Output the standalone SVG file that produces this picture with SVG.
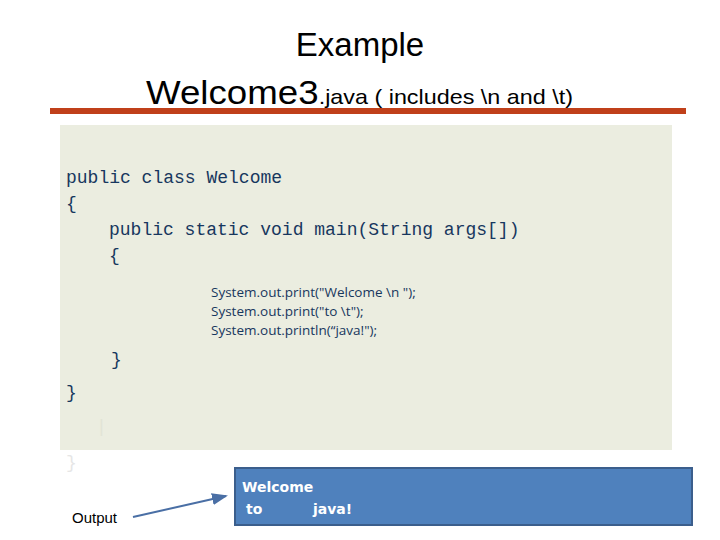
<svg xmlns="http://www.w3.org/2000/svg" width="720" height="540" viewBox="0 0 720 540">
<style>
.t{font-family:"Liberation Sans",Arial,sans-serif;fill:#000}
.c{font-family:"Liberation Mono","Courier New",monospace;font-size:18px;fill:#17375e}
.s{font-family:"Open Sans","Liberation Sans",sans-serif;font-size:13.5px;fill:#17375e}
.o{font-family:"DejaVu Sans",sans-serif;font-size:14px;font-weight:bold;fill:#fff}
</style>
<defs><marker id="a" markerWidth="8" markerHeight="6" refX="7" refY="3" orient="auto"><path d="M0,0L8,3L0,6z" fill="#4a6fa5"/></marker></defs>
<g id="title">
<text class="t" x="360" y="56" font-size="33" text-anchor="middle">Example</text>
<text class="t" x="146" y="104" font-size="33" textLength="427" lengthAdjust="spacingAndGlyphs">Welcome3<tspan font-size="21">.java ( includes \n and \t)</tspan></text>
<rect x="50" y="108" width="636" height="6" fill="#c0401a"/>
</g>
<g id="code">
<rect x="60" y="125" width="612" height="325" fill="#ebede0"/>
<text class="c" x="66" y="183">public class Welcome</text>
<text class="c" x="66" y="209">{</text>
<text class="c" x="109" y="235">public static void main(String args[])</text>
<text class="c" x="109" y="261">{</text>
<text class="s" x="211" y="297">System.out.print("Welcome \n ");</text>
<text class="s" x="211" y="316">System.out.print("to \t");</text>
<text class="s" x="211" y="335">System.out.println(“java!");</text>
<text class="c" x="111" y="365">}</text>
<text class="c" x="66" y="398">}</text>
<text class="c" x="96" y="432" style="fill:#e2e4d6">|</text>
<text class="c" x="66" y="468" style="fill:#e6e6e6">}</text>
</g>
<g id="output">
<rect x="235" y="468" width="457" height="57" fill="#4f81bd" stroke="#3b5e8c" stroke-width="2"/>
<text class="o" x="242" y="492">Welcome</text>
<text class="o" x="246" y="514">to<tspan x="313">java!</tspan></text>
</g>
<text class="t" x="72" y="523" font-size="15">Output</text>
<g id="connectors"><line x1="133" y1="517" x2="226" y2="496" stroke="#4a6fa5" stroke-width="2" marker-end="url(#a)"/></g>
</svg>
